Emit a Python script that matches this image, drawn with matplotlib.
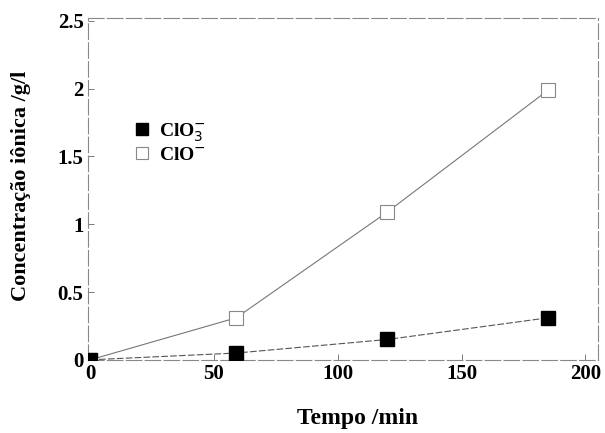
import matplotlib
matplotlib.use("Agg")
import matplotlib.pyplot as plt

tempo = [0, 59, 120, 185]
clo3 = [0.0, 0.05, 0.15, 0.31]
clo = [0.0, 0.31, 1.09, 1.99]
xticks = [0, 50, 100, 150, 200]
yticks = [0, 0.5, 1, 1.5, 2, 2.5]
yticklabels = ["0", "0.5", "1", "1.5", "2", "2.5"]

plt.rcParams['font.family'] = ['Liberation Serif', 'DejaVu Serif']
fig = plt.figure(figsize=(6.05, 4.33), dpi=100)
ax = fig.add_axes([0.145, 0.169, 0.843, 0.789])

ax.plot(tempo, clo3, color='#555555', lw=0.8, ls=(0, (6, 2)), marker='s', ms=10,
        mfc='black', mec='black', label='ClO$_3^{-}$', zorder=3)
ax.plot(tempo, clo, color='#777777', lw=0.8, marker='s', ms=10,
        mfc='white', mec='#888888', mew=0.8, label='ClO$^{-}$', zorder=2)

ax.set_xlim(-1, 205)
ax.set_ylim(0, 2.52)
ax.set_xticks(xticks)
ax.set_xticklabels([str(t) for t in xticks])
ax.set_yticks(yticks)
ax.set_yticklabels(yticklabels)
ax.tick_params(direction='in', length=4, width=0.6, color='#666666', labelsize=15, pad=3)
for lab in ax.get_xticklabels() + ax.get_yticklabels():
    lab.set_fontweight('bold')
for s in ax.spines.values():
    s.set_color('#888888')
    s.set_linewidth(0.8)
    s.set_linestyle((0, (14, 3)))

ax.set_xlabel('Tempo /min', fontsize=17, fontweight='bold')
ax.xaxis.set_label_coords(0.53, -0.14)
ax.set_ylabel('Concentração iônica /g/l', fontsize=16, fontweight='bold')
ax.yaxis.set_label_coords(-0.112, 0.51)

leg = ax.legend(loc='upper left', bbox_to_anchor=(0.06, 0.75), frameon=False,
                prop={'size': 14, 'weight': 'bold'}, handlelength=0.6,
                handletextpad=0.6, labelspacing=0.15, markerscale=0.9)
for h in leg.legend_handles:
    h.set_linestyle('none')

fig.savefig('out.png', dpi=100)
